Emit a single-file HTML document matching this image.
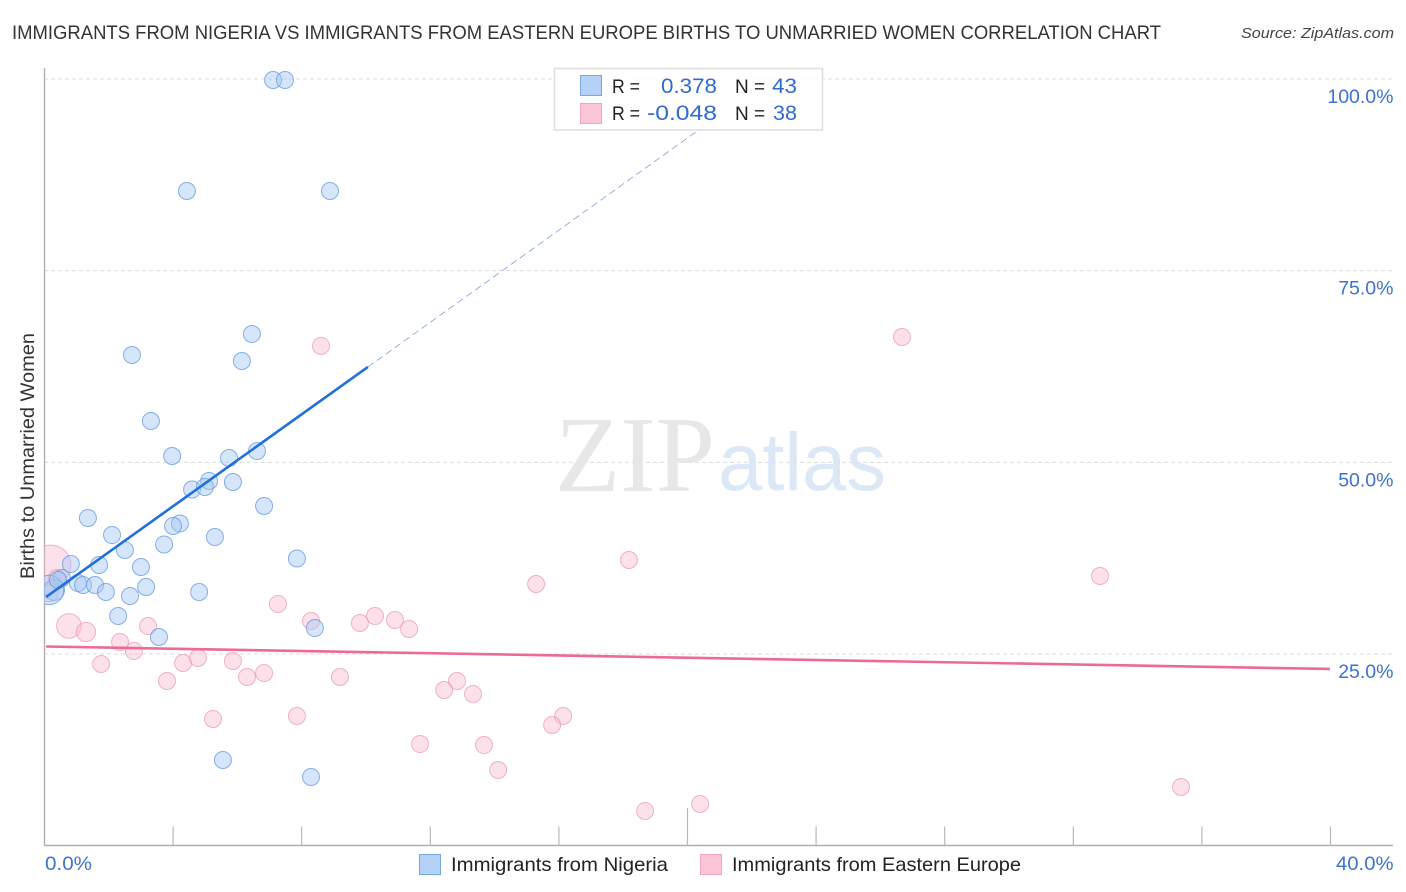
<!DOCTYPE html>
<html lang="en">
<head>
<meta charset="utf-8">
<title>Immigrants from Nigeria vs Immigrants from Eastern Europe Births to Unmarried Women Correlation Chart</title>
<style>
html,body{margin:0;padding:0;background:#fff;}
svg{display:block;font-family:"Liberation Sans",Arial,sans-serif;}
</style>
</head>
<body>
<svg id="chart" xmlns="http://www.w3.org/2000/svg" width="1406" height="892" viewBox="0 0 1406 892">
  <defs>
    <clipPath id="plot-clip"><rect x="44" y="60" width="1350" height="785"/></clipPath>
  </defs>
  <text x="12" y="39" font-size="19.5" fill="#333" textLength="1149" lengthAdjust="spacingAndGlyphs">IMMIGRANTS FROM NIGERIA VS IMMIGRANTS FROM EASTERN EUROPE BIRTHS TO UNMARRIED WOMEN CORRELATION CHART</text>
  <text x="1241" y="38" font-size="15" font-style="italic" fill="#444" textLength="153" lengthAdjust="spacingAndGlyphs">Source: ZipAtlas.com</text>
  <text transform="translate(34,579) rotate(-90)" font-size="19" fill="#333" textLength="246" lengthAdjust="spacingAndGlyphs">Births to Unmarried Women</text>

  <g id="grid"></g>

  <g>
    <text x="555" y="491" font-family="'Liberation Serif',serif" font-size="108" fill="#e7e7e7" textLength="160" lengthAdjust="spacingAndGlyphs">ZIP</text>
    <text x="718" y="490" font-size="82" fill="#dde8f7" textLength="168" lengthAdjust="spacingAndGlyphs">atlas</text>
  </g>

  <g id="axes"></g>
  <g id="pink-points" clip-path="url(#plot-clip)"></g>
  <g id="blue-points" clip-path="url(#plot-clip)"></g>
  <g id="trends"></g>
  <g id="labels"></g>

  <g>
    <rect x="554.5" y="68.5" width="268" height="61.5" fill="#fff" fill-opacity="0.85" stroke="#e0e0e0" stroke-width="1.6"/>
    <rect x="580.5" y="75.5" width="21" height="20" fill="#b5d2f6" stroke="#78a8e4" stroke-width="1"/>
    <rect x="580.5" y="103.5" width="21" height="20" fill="#fcc6d8" stroke="#f0a6bf" stroke-width="1"/>
    <text x="612" y="93" font-size="19" fill="#222" textLength="28" lengthAdjust="spacingAndGlyphs">R =</text>
    <text x="661" y="93" font-size="21" fill="#2f6bd0" textLength="56" lengthAdjust="spacingAndGlyphs">0.378</text>
    <text x="735" y="93" font-size="19" fill="#222">N =</text>
    <text x="772" y="93" font-size="21" fill="#2f6bd0" textLength="25" lengthAdjust="spacingAndGlyphs">43</text>
    <text x="612" y="120" font-size="19" fill="#222" textLength="28" lengthAdjust="spacingAndGlyphs">R =</text>
    <text x="647" y="120" font-size="21" fill="#2f6bd0" textLength="70" lengthAdjust="spacingAndGlyphs">-0.048</text>
    <text x="735" y="120" font-size="19" fill="#222">N =</text>
    <text x="773" y="120" font-size="21" fill="#2f6bd0" textLength="24" lengthAdjust="spacingAndGlyphs">38</text>
  </g>

  <g>
    <rect x="419.5" y="854.5" width="21" height="20" fill="#b5d2f6" stroke="#78a8e4" stroke-width="1"/>
    <text x="451" y="871" font-size="19.5" fill="#222" textLength="217" lengthAdjust="spacingAndGlyphs">Immigrants from Nigeria</text>
    <rect x="700.5" y="854.5" width="21" height="20" fill="#fcc6d8" stroke="#f0a6bf" stroke-width="1"/>
    <text x="732" y="871" font-size="19.5" fill="#222" textLength="289" lengthAdjust="spacingAndGlyphs">Immigrants from Eastern Europe</text>
  </g>
</svg>
<script>
const xTickValues = [0, 4, 8, 12, 16, 20, 24, 28, 32, 36, 40];
const xTickMajor = [20];
const xLabelValues = ['0.0%', '40.0%'];
const yTickValues = [25, 50, 75, 100];
const yLabelValues = ['25.0%', '50.0%', '75.0%', '100.0%'];

const nigeriaX = [7.11, 7.48, 4.43, 8.88, 6.45, 2.72, 6.14, 3.31, 3.97, 5.74, 6.61, 5.12, 5.86, 4.59, 4.99, 6.83, 1.35, 4.21, 4.00, 2.10, 5.30, 3.72, 2.50, 0.82, 1.70, 3.00, 7.85, 0.54, 1.04, 1.20, 1.57, 1.91, 3.16, 4.81, 2.66, 2.29, 3.56, 8.41, 5.55, 8.29, 0.30, 0.14, 0.42];
const nigeriaY = [99.87, 99.87, 85.39, 85.39, 66.74, 64.00, 63.22, 55.39, 50.83, 50.57, 51.48, 47.57, 47.44, 46.46, 46.79, 44.31, 42.74, 42.02, 41.70, 40.52, 40.26, 39.29, 38.57, 36.74, 36.61, 36.35, 37.46, 34.92, 34.26, 34.00, 34.00, 33.09, 33.74, 33.09, 32.57, 29.96, 27.22, 28.39, 11.18, 8.96, 33.35, 33.35, 34.66];
const nigeriaWeight = [1, 1, 1, 1, 1, 1, 1, 1, 1, 1, 1, 1, 1, 1, 1, 1, 1, 1, 1, 1, 1, 1, 1, 1, 1, 1, 1, 1, 1, 1, 1, 1, 1, 1, 1, 1, 1, 1, 1, 1, 1.5, 3, 1];

const europeX = [0.20, 0.14, 0.39, 0.76, 1.29, 3.22, 2.35, 2.78, 1.76, 3.81, 4.31, 4.77, 5.86, 6.30, 6.83, 7.26, 8.29, 9.19, 8.60, 26.67, 18.18, 15.29, 32.83, 10.28, 10.90, 9.81, 11.34, 12.83, 12.43, 13.33, 16.13, 15.79, 7.85, 5.24, 11.68, 13.67, 14.11, 35.35, 18.68, 20.39];
const europeY = [36.61, 33.09, 34.92, 28.66, 27.87, 28.66, 26.57, 25.39, 23.70, 21.48, 23.83, 24.48, 24.09, 22.00, 22.53, 31.53, 29.31, 22.00, 65.18, 66.35, 37.26, 34.13, 35.18, 29.96, 29.44, 29.05, 28.26, 21.48, 20.31, 19.79, 16.92, 15.74, 16.92, 16.53, 13.26, 13.13, 9.87, 7.66, 4.53, 5.44];
const europeWeight = [5.5, 1.3, 1, 2.1, 1.3, 1, 1, 1, 1, 1, 1, 1, 1, 1, 1, 1, 1, 1, 1, 1, 1, 1, 1, 1, 1, 1, 1, 1, 1, 1, 1, 1, 1, 1, 1, 1, 1, 1, 1, 1];

const nigeriaTrendX = [0.05, 10.06];
const nigeriaTrendY = [32.44, 62.44];
const nigeriaProjectionX = [10.06, 20.86];
const nigeriaProjectionY = [62.44, 94.9];
const europeTrendX = [0.05, 39.98];
const europeTrendY = [25.98, 23.05];

const SVG_NS = 'http://www.w3.org/2000/svg';
const xScale = v => 44.5 + v * 32.15;
const yScale = v => 845.7 - v * 7.667;
const radius = w => 8.5 * Math.sqrt(w);

function make(parentId, tag, attrs) {
  const el = document.createElementNS(SVG_NS, tag);
  Object.keys(attrs).forEach(k => el.setAttribute(k, attrs[k]));
  document.getElementById(parentId).appendChild(el);
  return el;
}

yTickValues.forEach(v => {
  const el = make('grid', 'line', {x1: 44, x2: 1393, y1: yScale(v), y2: yScale(v), stroke: '#dcdcdc', 'stroke-width': 1, 'stroke-dasharray': '4 3'});
  
  
});

const yAxis = make('axes', 'line', {x1: 44.5, x2: 44.5, y1: 68, y2: 845.5, stroke: '#b0b0b0', 'stroke-width': 1.4});


const xAxis = make('axes', 'line', {x1: 44, x2: 1393, y1: 845.5, y2: 845.5, stroke: '#b0b0b0', 'stroke-width': 1.4});



xTickValues.forEach(v => {
  if (v === 0) return;
  const top = xTickMajor.includes(v) ? 808 : 826.5;
  const el = make('axes', 'line', {x1: xScale(v), x2: xScale(v), y1: top, y2: 845.5, stroke: '#b8b8b8', 'stroke-width': 1.2});
  
  
});

europeX.forEach((x, i) => {
  const el = make('pink-points', 'circle', {cx: xScale(x), cy: yScale(europeY[i]), r: radius(europeWeight[i]), fill: '#f7b8cc', 'fill-opacity': 0.42, stroke: '#e895b0', 'stroke-opacity': 0.7, 'stroke-width': 1});
  
  
});

nigeriaX.forEach((x, i) => {
  const el = make('blue-points', 'circle', {cx: xScale(x), cy: yScale(nigeriaY[i]), r: radius(nigeriaWeight[i]), fill: '#a5c8f4', 'fill-opacity': 0.45, stroke: '#6a9ce0', 'stroke-opacity': 0.8, 'stroke-width': 1});
  
  
});

const blueProjection = make('trends', 'line', {x1: xScale(nigeriaProjectionX[0]), y1: yScale(nigeriaProjectionY[0]), x2: xScale(nigeriaProjectionX[1]), y2: yScale(nigeriaProjectionY[1]), stroke: '#7f9fd8', 'stroke-width': 0.8, 'stroke-dasharray': '7 4'});


const blueTrend = make('trends', 'line', {x1: xScale(nigeriaTrendX[0]), y1: yScale(nigeriaTrendY[0]), x2: xScale(nigeriaTrendX[1]), y2: yScale(nigeriaTrendY[1]), stroke: '#1f6fdc', 'stroke-width': 2.6});


const pinkTrend = make('trends', 'line', {x1: xScale(europeTrendX[0]), y1: yScale(europeTrendY[0]), x2: xScale(europeTrendX[1]), y2: yScale(europeTrendY[1]), stroke: '#ec6a98', 'stroke-width': 2.6});



yTickValues.forEach((v, i) => {
  const el = make('labels', 'text', {x: 1393.5, y: yScale(v) + 24, 'text-anchor': 'end', 'font-size': 19.5, fill: '#3b72d4'});
  el.textContent = yLabelValues[i];
  
  
});

const xLabelLeft = make('labels', 'text', {x: 45, y: 870, 'font-size': 19.5, fill: '#3b72d4', textLength: 47, lengthAdjust: 'spacingAndGlyphs'});
xLabelLeft.textContent = xLabelValues[0];


const xLabelRight = make('labels', 'text', {x: 1336, y: 870, 'font-size': 19.5, fill: '#3b72d4', textLength: 57.5, lengthAdjust: 'spacingAndGlyphs'});
xLabelRight.textContent = xLabelValues[1];


</script>
</body>
</html>
